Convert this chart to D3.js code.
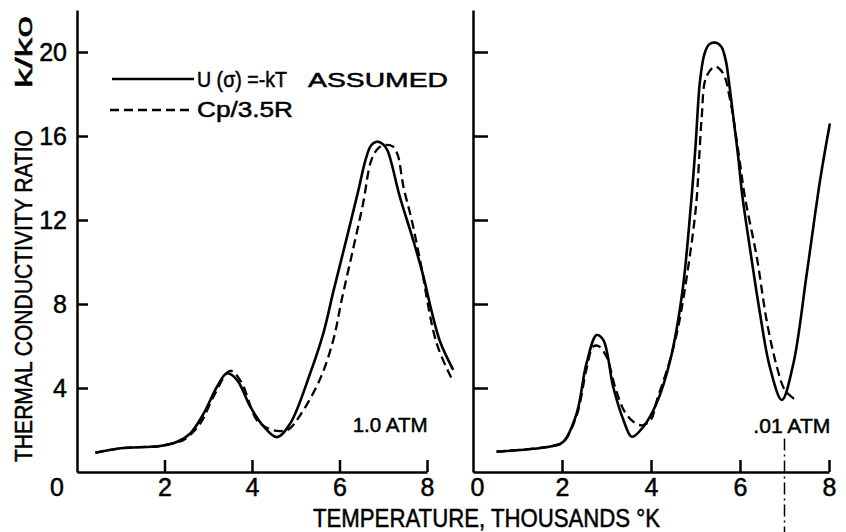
<!DOCTYPE html>
<html>
<head>
<meta charset="utf-8">
<script src="https://cdn.jsdelivr.net/npm/d3@7"></script>
<style>
  body { margin: 0; background: #fff; }
  text { font-family: "Liberation Sans", Arial, sans-serif; fill: #000; stroke: #000; stroke-width: 0.5; }
</style>
</head>
<body>
<div id="chart"></div>
<script>
// Thermal conductivity ratio k/k0 vs temperature (thousands of K)
// [T, k/k0]
const atm1Solid = [
    [0.42, 0.92], [1.0, 1.13], [1.9, 1.24], [2.29, 1.44], [2.59, 1.84], [2.9, 2.8],
    [3.2, 4.06], [3.43, 4.7], [3.66, 4.38], [3.96, 3.11], [4.27, 2.16], [4.57, 1.66],
    [4.87, 2.3], [5.33, 4.7], [5.63, 6.6], [5.86, 8.6], [6.16, 11.1], [6.43, 13.4],
    [6.6, 14.9], [6.72, 15.55], [6.85, 15.73], [7.0, 15.6], [7.1, 15.3], [7.38, 13.1],
    [7.69, 11.0], [7.92, 9.3], [8.1, 7.7], [8.3, 6.2], [8.6, 4.86]
];
const atm1Dashed = [
    [0.42, 0.92], [1.0, 1.13], [1.9, 1.24], [2.29, 1.42], [2.44, 1.52], [2.82, 2.32],
    [3.12, 3.59], [3.5, 4.82], [3.75, 4.3], [4.11, 2.48], [4.4, 2.05], [4.65, 1.95],
    [4.85, 2.05], [5.1, 2.7], [5.55, 4.4], [5.86, 6.3], [6.05, 8.2], [6.32, 10.7],
    [6.54, 12.8], [6.73, 14.86], [6.9, 15.45], [7.04, 15.57], [7.22, 15.5], [7.33, 15.1],
    [7.46, 13.6], [7.65, 12.0], [7.84, 10.1], [8.22, 6.13], [8.6, 4.3]
];
const atm001Solid = [
    [0.53, 0.97], [1.8, 1.24], [2.03, 1.44], [2.33, 2.79], [2.55, 5.17], [2.78, 6.52],
    [2.93, 6.28], [3.15, 4.06], [3.38, 2.48], [3.57, 1.68], [3.83, 2.16], [4.13, 3.3],
    [4.43, 5.3], [4.7, 8.5], [4.9, 12.8], [5.0, 15.5], [5.1, 18.6], [5.2, 19.9],
    [5.3, 20.35], [5.44, 20.45], [5.58, 20.25], [5.68, 19.6], [5.75, 18.6], [5.85, 16.9],
    [5.96, 15.0], [6.05, 13.2], [6.22, 10.7], [6.45, 7.54], [6.67, 5.0], [6.94, 3.43],
    [7.2, 5.17], [7.5, 9.44], [7.8, 13.9], [8.02, 16.6]
];
const atm001Dashed = [
    [0.53, 0.97], [1.8, 1.24], [2.03, 1.42], [2.33, 2.7], [2.55, 4.9], [2.7, 5.97],
    [2.82, 6.0], [3.0, 5.49], [3.2, 4.0], [3.4, 2.9], [3.6, 2.4], [3.8, 2.22],
    [4.0, 2.5], [4.13, 3.4], [4.38, 5.0], [4.58, 6.6], [4.73, 8.3], [4.95, 11.5],
    [5.03, 13.1], [5.08, 14.86], [5.14, 16.9], [5.24, 18.8], [5.44, 19.3], [5.62, 18.98],
    [5.78, 17.7], [5.96, 15.3], [6.11, 13.1], [6.38, 10.2], [6.6, 7.2], [6.83, 5.0],
    [7.01, 3.9], [7.27, 3.4]
];

const yTicks = [4, 8, 12, 16, 20];
const leftXTicks = [2, 4, 6, 8];
const rightXTicks = [0, 2, 4, 6, 8];
const legendLabels = ['U (σ) =-kT', 'ASSUMED', 'Cp/3.5R'];
const panelLabels = ['1.0 ATM', '.01 ATM'];
const markerT = 7.0;

const width = 846, height = 532;

const svg = d3.select('#chart')
    .append('svg')
    .attr('width', width)
    .attr('height', height);

// Scales
const y = d3.scaleLinear().domain([0, 22]).range([472, 10]);
const xL = d3.scaleLinear().domain([0, 8]).range([77, 427]);
const xR = d3.scaleLinear().domain([0, 8]).range([473, 829]);

function styleAxis(g) {
    g.select('.domain').attr('stroke', '#000').attr('stroke-width', 2.5);
    g.selectAll('.tick line').attr('stroke', '#000').attr('stroke-width', 2.5);
    g.selectAll('.tick text')
        .attr('font-family', '"Liberation Sans", Arial, sans-serif')
        .attr('font-size', 25)
        .attr('fill', '#000');
}

// Left panel axes
svg.append('g')
    .attr('transform', `translate(${xL(0)},0)`)
    .call(d3.axisLeft(y).tickValues(yTicks).tickSize(-11).tickSizeOuter(0).tickPadding(10))
    .call(styleAxis);

svg.append('g')
    .attr('transform', `translate(0,${y(0)})`)
    .call(d3.axisBottom(xL).tickValues(leftXTicks).tickSize(-12).tickSizeOuter(0).tickPadding(6))
    .call(styleAxis);

// corner zero label
svg.append('text')
    .attr('x', xL(0) - 20)
    .attr('y', y(0) + 6)
    .attr('dy', '0.71em')
    .attr('text-anchor', 'middle')
    .attr('font-size', 25)
    .text('0');

// Right panel axes
svg.append('g')
    .attr('transform', `translate(${xR(0)},0)`)
    .call(d3.axisLeft(y).tickValues(yTicks).tickSize(-15).tickSizeOuter(0).tickFormat(''))
    .call(styleAxis);

const rightX = svg.append('g')
    .attr('transform', `translate(0,${y(0)})`)
    .call(d3.axisBottom(xR).tickValues(rightXTicks).tickSize(-12).tickSizeOuter(0).tickPadding(6))
    .call(styleAxis);
rightX.selectAll('.tick').filter(d => d === 0).select('line').remove();
rightX.selectAll('.tick').filter(d => d === 0).select('text').attr('x', 4);

// Curves
const lineL = d3.line().x(d => xL(d[0])).y(d => y(d[1])).curve(d3.curveCatmullRom.alpha(0.5));
const lineR = d3.line().x(d => xR(d[0])).y(d => y(d[1])).curve(d3.curveCatmullRom.alpha(0.5));

const curves = [
    { data: atm1Dashed, gen: lineL, dash: '9,5' },
    { data: atm1Solid, gen: lineL, dash: null },
    { data: atm001Dashed, gen: lineR, dash: '9,5' },
    { data: atm001Solid, gen: lineR, dash: null }
];

svg.append('g')
    .selectAll('path')
    .data(curves)
    .join('path')
    .attr('d', d => d.gen(d.data))
    .attr('fill', 'none')
    .attr('stroke', '#000')
    .attr('stroke-width', d => d.dash ? 2.3 : 2.6)
    .attr('stroke-dasharray', d => d.dash);

// Dash-dot marker at 7000 K on the right panel
svg.append('line')
    .attr('x1', xR(markerT)).attr('x2', xR(markerT))
    .attr('y1', y(1.6)).attr('y2', height)
    .attr('stroke', '#000')
    .attr('stroke-width', 1.5)
    .attr('stroke-dasharray', '12,4,2,4');

// Legend
svg.append('line')
    .attr('x1', 112).attr('x2', 194).attr('y1', 79).attr('y2', 79)
    .attr('stroke', '#000').attr('stroke-width', 2.6);
svg.append('line')
    .attr('x1', 110).attr('x2', 192).attr('y1', 110).attr('y2', 110)
    .attr('stroke', '#000').attr('stroke-width', 2.3)
    .attr('stroke-dasharray', '9,5');

function fitText(sel, len) {
    sel.attr('textLength', len).attr('lengthAdjust', 'spacingAndGlyphs');
}

svg.append('text')
    .attr('x', 197).attr('y', 87)
    .attr('font-size', 22)
    .call(fitText, 90)
    .text(legendLabels[0]);
svg.append('text')
    .attr('x', 308).attr('y', 87)
    .attr('font-size', 21)
    .call(fitText, 140)
    .text(legendLabels[1]);
svg.append('text')
    .attr('x', 197).attr('y', 117)
    .attr('font-size', 22)
    .call(fitText, 96)
    .text(legendLabels[2]);

// Panel labels
svg.append('text')
    .attr('x', xL(6.3)).attr('y', y(1.9))
    .attr('font-size', 21)
    .call(fitText, 75)
    .text(panelLabels[0]);
svg.append('text')
    .attr('x', xR(6.3)).attr('y', y(1.85))
    .attr('font-size', 21)
    .call(fitText, 77)
    .text(panelLabels[1]);

// Axis titles
svg.append('text')
    .attr('transform', 'translate(32,462) rotate(-90)')
    .attr('font-size', 24)
    .call(fitText, 332)
    .text('THERMAL CONDUCTIVITY RATIO');
svg.append('text')
    .attr('transform', 'translate(32,88) rotate(-90)')
    .attr('font-size', 24)
    .call(fitText, 72)
    .text('k/ko');

svg.append('text')
    .attr('x', 313).attr('y', 527)
    .attr('font-size', 25)
    .call(fitText, 347)
    .text('TEMPERATURE, THOUSANDS °K');
</script>
</body>
</html>
